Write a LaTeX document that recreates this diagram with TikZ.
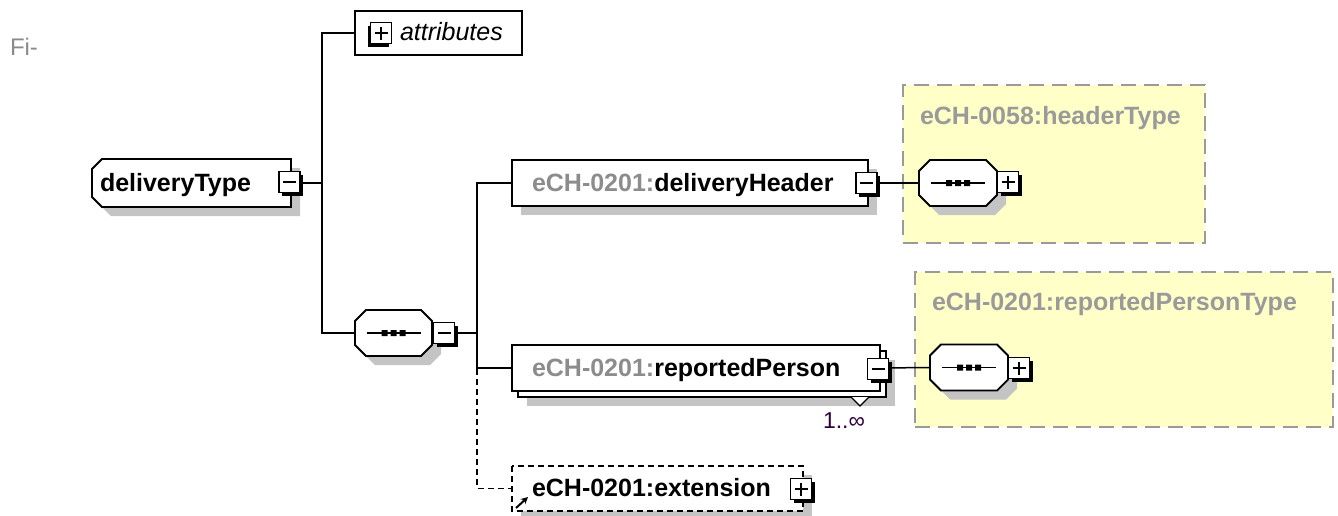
\documentclass[tikz,border=0pt]{standalone}
\usepackage{fontspec}
\setmainfont{Liberation Sans}
\usetikzlibrary{arrows.meta}
\definecolor{shadowgray}{HTML}{C4C4C4}
\definecolor{prefixgray}{HTML}{8C8C8C}
\definecolor{titlegray}{HTML}{9A9A9A}
\definecolor{typeyellow}{HTML}{FFFFC8}
\definecolor{borderyellow}{HTML}{9A9A9A}
\definecolor{figgray}{HTML}{8A8A8A}
\definecolor{occ}{HTML}{300040}
\newcommand\myoct[1]{([xshift=11pt]#1.north west) -- ([xshift=-11pt]#1.north east) -- ([yshift=-11pt]#1.north east) -- ([yshift=11pt]#1.south east) -- ([xshift=-11pt]#1.south east) -- ([xshift=11pt]#1.south west) -- ([yshift=11pt]#1.south west) -- ([yshift=-11pt]#1.north west) -- cycle}
\newcommand\myleftoct[1]{([xshift=10pt]#1.north west) -- (#1.north east) -- (#1.south east) -- ([xshift=10pt]#1.south west) -- ([yshift=10pt]#1.south west) -- ([yshift=-10pt]#1.north west) -- cycle}
\newcommand\myrect[1]{(#1.north west) rectangle (#1.south east)}
\newcommand\btnminus[1]{\draw[line width=1.5pt] ([xshift=-6.5pt]#1.center) -- ([xshift=6.5pt]#1.center);}
\newcommand\btnplus[1]{\draw[line width=1.5pt] ([xshift=-6.5pt]#1.center) -- ([xshift=6.5pt]#1.center) ([yshift=-6.5pt]#1.center) -- ([yshift=6.5pt]#1.center);}
\newcommand\seqsym[1]{\draw[line width=1.8pt] ([xshift=-27pt]#1.center) -- ([xshift=27pt]#1.center);
  \fill ([xshift=-12pt,yshift=-3pt]#1.center) rectangle ++(6pt,6pt)
        ([xshift=-3pt,yshift=-3pt]#1.center) rectangle ++(6pt,6pt)
        ([xshift=6pt,yshift=-3pt]#1.center) rectangle ++(6pt,6pt);}
\begin{document}
\begin{tikzpicture}[x=1pt,y=-1pt,line width=1.8pt,
  every node/.style={inner sep=0pt,outer sep=0pt},
  box/.style={rectangle},
  btn/.style={rectangle,draw,fill=white,line width=1.5pt,minimum width=21pt,minimum height=21pt,
    preaction={fill=black,transform canvas={shift={(3pt,-3pt)}}}},
  btnl/.style={rectangle,draw,fill=white,line width=1.5pt,minimum width=21pt,minimum height=21pt,
    preaction={fill=black,transform canvas={shift={(-3pt,-3pt)}}}},
  typebox/.style={rectangle,fill=typeyellow,draw=borderyellow,dash pattern=on 15pt off 8pt,line width=1.8pt},
  big/.style={font=\fontsize{25}{30}\selectfont},
  bigb/.style={font=\fontsize{25}{30}\selectfont\bfseries},
  shad/.style={fill=shadowgray,transform canvas={shift={(9pt,-9pt)}}},
  conn/.style={draw,line width=1.8pt}
]
\useasboundingbox (0,0) rectangle (1338,515);

% type boxes
\node[typebox,minimum width=302pt,minimum height=158pt] (htbox) at (1054,164) {};
\node[typebox,minimum width=418pt,minimum height=155pt] (rptbox) at (1124,349.5) {};

% invisible shape frames
\node[box,minimum width=199pt,minimum height=48pt] (dt) at (191.5,183) {};
\node[box,minimum width=167pt,minimum height=44pt] (attr) at (438.5,33) {};
\node[box,minimum width=77pt,minimum height=46pt] (seq) at (393.5,333) {};
\node[box,minimum width=356pt,minimum height=46pt] (dh) at (690,183) {};
\node[box,minimum width=368pt,minimum height=46pt] (rp) at (696,368) {};
\node[box,minimum width=368pt,minimum height=46pt] (rpback) at (702,374) {};
\node[box,minimum width=291pt,minimum height=45pt] (ext) at (657.5,488.5) {};
\node[box,minimum width=78pt,minimum height=46pt] (hts) at (958,183) {};
\node[box,minimum width=78pt,minimum height=46pt] (rpts) at (969,367.5) {};

\coordinate (j1) at (322,183);
\coordinate (j2) at (477,333);
\coordinate (j3) at (477,369);

% shadows
\fill[shad] \myleftoct{dt};
\fill[shad] \myoct{seq};
\fill[shad] \myrect{dh};
\fill[shad] \myrect{rpback};
\fill[shad] \myrect{ext};
\fill[shad] \myoct{hts};
\fill[shad] \myoct{rpts};

% connectors
\draw[conn] (dt.east) -- (j1);
\draw[conn] (attr.west) -| (j1) |- (seq.west);
\draw[conn] (seq.east) -- (j2);
\draw[conn] (dh.west) -| (j2) |- (rp.west);
\draw[conn,dash pattern=on 6pt off 4pt] (j3) |- (ext.west);
\draw[conn,line width=1.5pt] (dh.east) -- (hts.west);
\draw[conn,line width=1.5pt] (rp.east) -- (rpts.west);

% shapes
\draw[fill=white] \myleftoct{dt};
\draw[fill=white] \myrect{attr};
\draw[fill=white] \myoct{seq};
\draw[fill=white] \myrect{dh};
\draw[fill=white] \myrect{rpback};
\draw[fill=white] \myrect{rp};
\draw[fill=white,dash pattern=on 6pt off 4pt] \myrect{ext};
\draw[fill=white] \myoct{hts};
\draw[fill=white] \myoct{rpts};
\seqsym{seq}
\seqsym{hts}
\seqsym{rpts}

% occurrence notch
\draw[line width=1.2pt,fill=white] (851,397) -- (860,406) -- (869,397);

% buttons
\node[btn] (dtbtn) at (289.5,182) {}; \btnminus{dtbtn}
\node[btnl] (attrbtn) at (381,33) {}; \btnplus{attrbtn}
\node[btn] (seqbtn) at (444,333) {}; \btnminus{seqbtn}
\node[btn] (dhbtn) at (866.5,183) {}; \btnminus{dhbtn}
\node[btn] (htbtn) at (1008,182) {}; \btnplus{htbtn}
\node[btn] (rpbtn) at (878,369) {}; \btnminus{rpbtn}
\node[btn] (rptbtn) at (1019,368) {}; \btnplus{rptbtn}
\node[btn] (extbtn) at (801,489) {}; \btnplus{extbtn}

% extension reference arrow
\draw[line width=2pt,-{Stealth[length=7pt,width=7pt]}] (516,508) -- (528,497);

% texts
\node[anchor=base west,font=\fontsize{24}{28}\selectfont,text=figgray] (fig) at (10,55) {Fi-};
\node[anchor=base west,bigb] (dtlabel) at (100,191) {deliveryType};
\node[anchor=base west,big] (attrlabel) at (400,40) {\itshape attributes};
\node[anchor=base west,bigb] (dhlabel) at (532,191) {\textcolor{prefixgray}{eCH-0201:}deliveryHeader};
\node[anchor=base west,bigb] (rplabel) at (532,376) {\textcolor{prefixgray}{eCH-0201:}reportedPerson};
\node[anchor=base west,bigb] (extlabel) at (532,496) {eCH-0201:extension};
\node[anchor=base west,bigb,text=titlegray] (httitle) at (920,124) {eCH-0058:headerType};
\node[anchor=base west,bigb,text=titlegray] (rpttitle) at (932,310) {eCH-0201:reportedPersonType};
\node[anchor=base west,font=\fontsize{23}{27}\selectfont,text=occ] (occlabel) at (823,428) {1..∞};
\end{tikzpicture}
\end{document}
